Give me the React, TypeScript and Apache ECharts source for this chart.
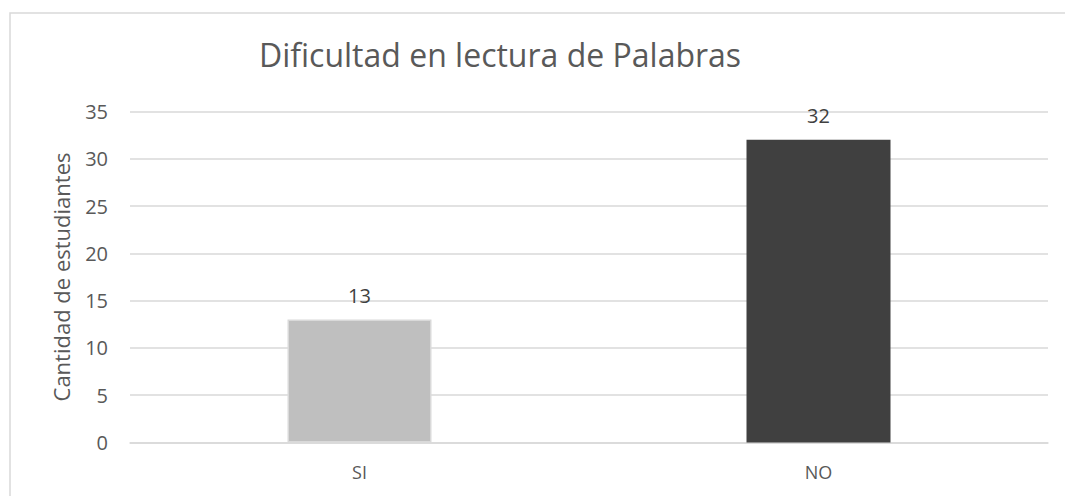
import React, { useEffect, useRef } from "react";
import * as echarts from "echarts";

const title = "Dificultad en lectura de Palabras";
const yAxisName = "Cantidad de estudiantes";
const categories = ["SI", "NO"];
const values = [13, 32];
const barColors = ["#BFBFBF", "#404040"];
const yMin = 0;
const yMax = 35;
const yInterval = 5;

export default function App() {
  const ref = useRef<HTMLDivElement>(null);
  useEffect(() => {
    if (!ref.current) return;
    const chart = echarts.init(ref.current, null, { renderer: "svg" });
    const font = "'Open Sans', 'Noto Sans', sans-serif";
    chart.setOption({
      animation: false,
      backgroundColor: "#ffffff",
      textStyle: { fontFamily: font },
      graphic: [
        {
          type: "rect",
          shape: { x: 10, y: 13, width: 1200, height: 700 },
          style: { fill: "none", stroke: "#D9D9D9", lineWidth: 1.5 },
          silent: true,
          z: -1,
        },
      ],
      title: {
        text: title,
        left: 495,
        top: 33,
        textAlign: "center",
        textStyle: { fontFamily: font, fontSize: 32, fontWeight: "normal", color: "#595959" },
      },
      grid: { left: 130, right: 17, top: 111.5, bottom: 53.5 },
      xAxis: {
        type: "category",
        data: categories,
        axisTick: { show: false },
        axisLine: { lineStyle: { color: "#D9D9D9", width: 1.5 } },
        axisLabel: { color: "#595959", fontSize: 18, margin: 20, fontFamily: font },
      },
      yAxis: {
        type: "value",
        min: yMin,
        max: yMax,
        interval: yInterval,
        name: yAxisName,
        nameLocation: "middle",
        nameGap: 58,
        nameTextStyle: { color: "#595959", fontSize: 22, fontFamily: font },
        axisLine: { show: false },
        axisTick: { show: false },
        axisLabel: { color: "#595959", fontSize: 20, margin: 22, fontFamily: font },
        splitLine: { lineStyle: { color: "#D9D9D9", width: 1.5 } },
      },
      series: [
        {
          type: "bar",
          barWidth: 144,
          data: values.map((v, i) => ({
            value: v,
            itemStyle: {
              color: barColors[i],
              borderColor: i === 0 ? "#D9D9D9" : barColors[i],
              borderWidth: i === 0 ? 1.5 : 0,
            },
          })),
          label: {
            show: true,
            position: "top",
            distance: 14,
            color: "#404040",
            fontSize: 20,
            fontFamily: font,
          },
        },
      ],
    });
    return () => chart.dispose();
  }, []);
  return (
    <div
      ref={ref}
      style={{ position: "absolute", left: 0, top: 0, width: 1065, height: 496 }}
    />
  );
}
